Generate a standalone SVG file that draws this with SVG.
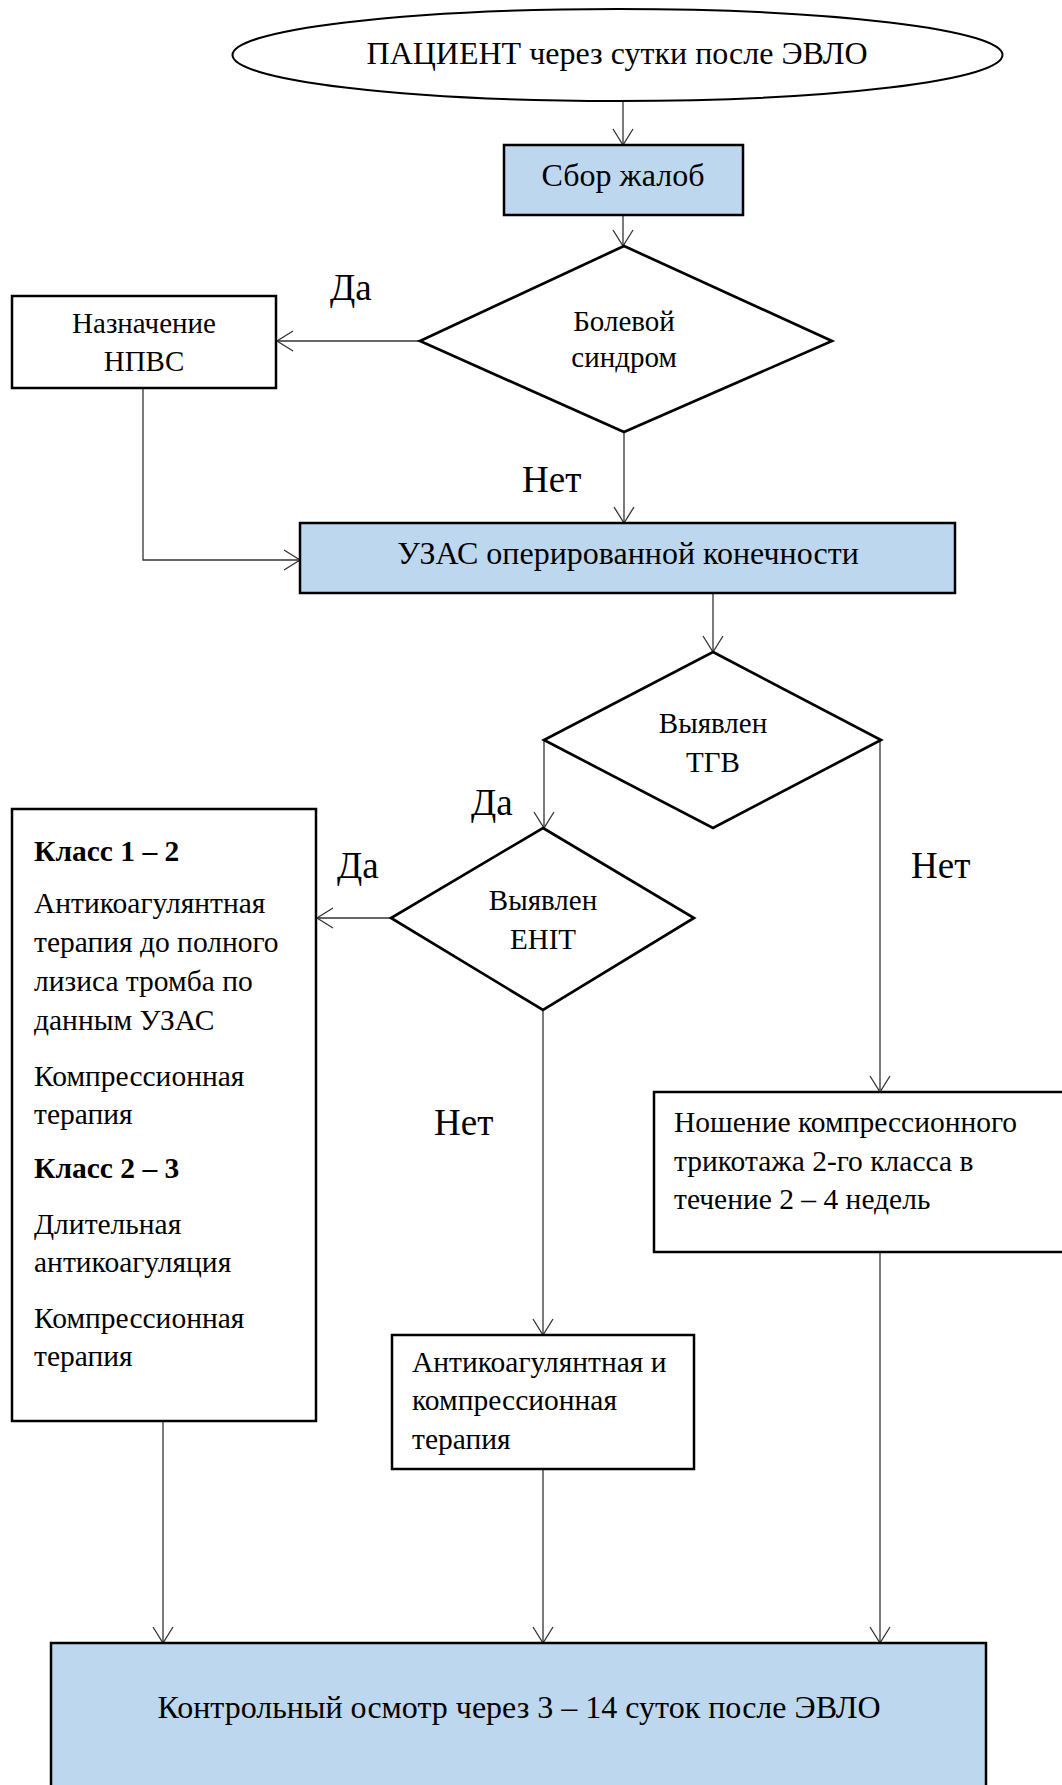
<svg xmlns="http://www.w3.org/2000/svg" width="1062" height="1785" viewBox="0 0 1062 1785">
<style>
text{font-family:"Liberation Serif","Times New Roman",serif;fill:#000}
.t31{font-size:32px}
.t26{font-size:29px}
.t28{font-size:29.5px}
.lbl{font-size:37px}
.b{font-weight:bold}
.mid{text-anchor:middle}
.box{fill:#fff;stroke:#000;stroke-width:2.5}
.blue{fill:#BDD7EE;stroke:#000;stroke-width:2.5}
.dia{fill:#fff;stroke:#000;stroke-width:2.7}
.con{fill:none;stroke:#333;stroke-width:1.3;marker-end:url(#arr)}
</style>
<defs>
<marker id="arr" markerUnits="userSpaceOnUse" viewBox="-18 -12 20 24" refX="0" refY="0" markerWidth="20" markerHeight="24" orient="auto">
<path d="M-16,-10 L0,0 L-16,10" fill="none" stroke="#333" stroke-width="1.3"/>
</marker>
</defs>
<g id="connectors">
<path class="con" d="M623,101 V145"/>
<path class="con" d="M623,215 V246"/>
<path class="con" d="M420,341 H277"/>
<path class="con" d="M624,432 V523"/>
<path class="con" d="M143,388 V560 H300"/>
<path class="con" d="M713,593 V652"/>
<path class="con" d="M544,740 V828"/>
<path class="con" d="M880,740 V1092"/>
<path class="con" d="M391,918 H317"/>
<path class="con" d="M543,1010 V1335"/>
<path class="con" d="M163,1421 V1643"/>
<path class="con" d="M543,1469 V1643"/>
<path class="con" d="M880,1252 V1643"/>
</g>
<g id="start">
<ellipse cx="617.5" cy="55" rx="385" ry="46" fill="#fff" stroke="#000" stroke-width="2"/>
<text class="t31 mid" x="617" y="64">ПАЦИЕНТ через сутки после ЭВЛО</text>
</g>
<g id="complaints">
<rect class="blue" x="504" y="145" width="239" height="70"/>
<text class="t31 mid" x="623" y="186">Сбор жалоб</text>
</g>
<g id="pain">
<polygon class="dia" points="624,246 832,341 624,432 420,341"/>
<text class="t26 mid" x="624" y="331">Болевой</text>
<text class="t26 mid" x="624" y="367">синдром</text>
</g>
<text class="lbl" x="330" y="300">Да</text>
<g id="nsaid">
<rect class="box" x="12" y="296" width="264" height="92"/>
<text class="t26 mid" x="144" y="333">Назначение</text>
<text class="t26 mid" x="144" y="371">НПВС</text>
</g>
<text class="lbl" x="522" y="492">Нет</text>
<g id="uzas">
<rect class="blue" x="300" y="523" width="655" height="70"/>
<text class="t31 mid" x="628" y="564">УЗАС оперированной конечности</text>
</g>
<g id="tgv">
<polygon class="dia" points="713,652 881,740 713,828 544,740"/>
<text class="t26 mid" x="713" y="733">Выявлен</text>
<text class="t26 mid" x="713" y="772">ТГВ</text>
</g>
<text class="lbl" x="471" y="815">Да</text>
<text class="lbl" x="911" y="878">Нет</text>
<text class="lbl" x="337" y="878">Да</text>
<g id="classes">
<rect class="box" x="12" y="809" width="304" height="612"/>
<text class="t28 b" x="34" y="861">Класс 1 – 2</text>
<text class="t28" x="34" y="913">Антикоагулянтная</text>
<text class="t28" x="34" y="952">терапия до полного</text>
<text class="t28" x="34" y="991">лизиса тромба по</text>
<text class="t28" x="34" y="1030">данным УЗАС</text>
<text class="t28" x="34" y="1086">Компрессионная</text>
<text class="t28" x="34" y="1124">терапия</text>
<text class="t28 b" x="34" y="1178">Класс 2 – 3</text>
<text class="t28" x="34" y="1234">Длительная</text>
<text class="t28" x="34" y="1272">антикоагуляция</text>
<text class="t28" x="34" y="1328">Компрессионная</text>
<text class="t28" x="34" y="1366">терапия</text>
</g>
<g id="ehit">
<polygon class="dia" points="543,828 694,918 543,1010 391,918"/>
<text class="t26 mid" x="543" y="910">Выявлен</text>
<text class="t26 mid" x="543" y="949">EHIT</text>
</g>
<text class="lbl" x="434" y="1135">Нет</text>
<g id="stockings">
<rect class="box" x="654" y="1092" width="420" height="160"/>
<text class="t28" x="674" y="1132">Ношение компрессионного</text>
<text class="t28" x="674" y="1171">трикотажа 2-го класса в</text>
<text class="t28" x="674" y="1209">течение 2 – 4 недель</text>
</g>
<g id="therapy">
<rect class="box" x="392" y="1335" width="302" height="134"/>
<text class="t28" x="412" y="1372">Антикоагулянтная и</text>
<text class="t28" x="412" y="1410">компрессионная</text>
<text class="t28" x="412" y="1449">терапия</text>
</g>
<g id="control">
<rect class="blue" x="51" y="1643" width="935" height="170"/>
<text class="t31 mid" x="519" y="1718">Контрольный осмотр через 3 – 14 суток после ЭВЛО</text>
</g>
</svg>
